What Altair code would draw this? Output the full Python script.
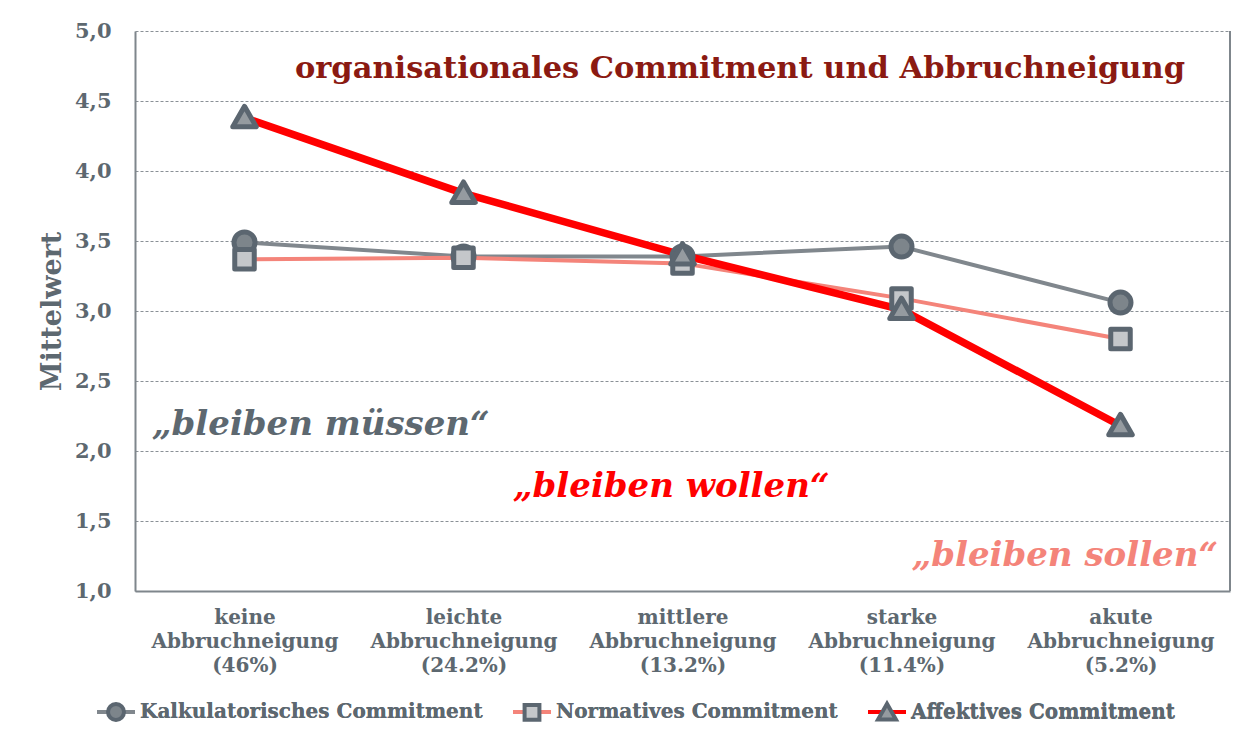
import altair as alt
import pandas as pd

# ---------------- data ----------------
categories = [
    "keine\nAbbruchneigung\n(46%)",
    "leichte\nAbbruchneigung\n(24.2%)",
    "mittlere\nAbbruchneigung\n(13.2%)",
    "starke\nAbbruchneigung\n(11.4%)",
    "akute\nAbbruchneigung\n(5.2%)",
]
series_names = ["Kalkulatorisches Commitment", "Normatives Commitment", "Affektives Commitment"]
kalkulatorisch = [3.49, 3.39, 3.39, 3.46, 3.06]
normativ = [3.37, 3.38, 3.34, 3.09, 2.80]
affektiv = [4.38, 3.84, 3.40, 3.01, 2.18]
y_ticks = [1.0, 1.5, 2.0, 2.5, 3.0, 3.5, 4.0, 4.5, 5.0]

chart_title = "organisationales Commitment und Abbruchneigung"
label_muessen = "„bleiben müssen“"
label_wollen = "„bleiben wollen“"
label_sollen = "„bleiben sollen“"

# ---------------- styles ----------------
FONT = "DejaVu Serif"
TXT = "#5d6870"
DARK = "#5b6670"
AXIS = "#7f868c"
GRID = "#8a9096"
line_colors = ["#80878d", "#f4847a", "#ff0000"]
marker_fills = ["#7d858b", "#c4c7ca", "#959ba0"]
# leading moveTo's give every legend symbol the same full-width bounds
EXT = "M-1,0M1,0"
marker_paths = [
    EXT + "M-0.42,0A0.42,0.42 0 1,0 0.42,0A0.42,0.42 0 1,0 -0.42,0Z",
    EXT + "M-0.39,-0.39H0.39V0.39H-0.39Z",
    EXT + "M0,-0.46L0.47,0.36H-0.47Z",
]
LINE_SYMBOL = "M-1,0H1"

W, H = 1095, 560

rows = []
for i, (name, vals) in enumerate(zip(series_names, [kalkulatorisch, normativ, affektiv])):
    for c, v in zip(categories, vals):
        rows.append({"Kategorie": c, "Reihe": name, "Wert": v, "Ordnung": i})
df = pd.DataFrame(rows)

x_enc = alt.X(
    "Kategorie:N",
    sort=categories,
    scale=alt.Scale(type="point", padding=0.5),
    axis=alt.Axis(
        title=None,
        labelExpr="split(datum.label, '\\n')",
        labelAngle=0,
        labelFont=FONT,
        labelFontWeight="bold",
        labelFontSize=20,
        labelColor=TXT,
        labelLineHeight=24,
        labelPadding=16,
        labelBaseline="top",
        labelLimit=400,
        ticks=False,
        domainColor=AXIS,
        domainWidth=2,
        grid=False,
    ),
)
y_enc = alt.Y(
    "Wert:Q",
    scale=alt.Scale(domain=[1, 5], nice=False, zero=False),
    axis=alt.Axis(
        values=y_ticks,
        labelExpr="replace(format(datum.value, '.1f'), '.', ',')",
        title="Mittelwert",
        titleFont=FONT,
        titleFontWeight="bold",
        titleFontSize=27,
        titleColor=TXT,
        titlePadding=8,
        labelFont=FONT,
        labelFontWeight="bold",
        labelFontSize=21,
        labelColor=TXT,
        labelPadding=24,
        ticks=False,
        grid=True,
        gridColor=GRID,
        gridDash=[3, 2],
        gridWidth=1,
        domainColor=AXIS,
        domainWidth=2,
    ),
)

legend_common = dict(
    orient="none",
    legendX=-40,
    legendY=660,
    direction="horizontal",
    columns=3,
    title=None,
    symbolSize=1444,
    symbolStrokeWidth=4,
    labelFont=FONT,
    labelFontSize=20,
    labelFontWeight="bold",
    labelColor=TXT,
    labelLimit=600,
    labelOffset=3,
    columnPadding=22,
    padding=0,
)

base = alt.Chart(df)

lines = base.mark_line(strokeJoin="round").encode(
    x=x_enc,
    y=y_enc,
    stroke=alt.Stroke(
        "Reihe:N",
        scale=alt.Scale(domain=series_names, range=line_colors),
        legend=alt.Legend(symbolType=LINE_SYMBOL, zindex=0, **legend_common),
    ),
    strokeWidth=alt.condition(
        alt.datum.Reihe == "Affektives Commitment", alt.value(7.5), alt.value(4)
    ),
)

order_sort = alt.EncodingSortField(field="Ordnung", op="min")
marker_legend = dict(zindex=1, **legend_common)
points = base.mark_point(
    filled=True, size=2500, stroke=DARK, strokeWidth=5, strokeJoin="round", opacity=1
).encode(
    x=x_enc,
    y=y_enc,
    shape=alt.Shape(
        "Reihe:N",
        sort=order_sort,
        scale=alt.Scale(range=marker_paths),
        legend=alt.Legend(**marker_legend),
    ),
    fill=alt.Fill(
        "Reihe:N",
        sort=order_sort,
        scale=alt.Scale(range=marker_fills),
        legend=alt.Legend(**marker_legend),
    ),
    stroke=alt.value(DARK),
    strokeWidth=alt.value(5),
)

dummy = pd.DataFrame({"d": [0]})

right_border = alt.Chart(dummy).mark_rule(color=AXIS, strokeWidth=2).encode(
    x=alt.value(W), y=alt.value(0), y2=alt.value(H)
)

title_txt = alt.Chart(dummy).mark_text(
    text=chart_title, font=FONT, fontSize=30.5, fontWeight="bold", color="#8b1a12",
    align="right", baseline="alphabetic",
).encode(x=alt.value(1050), y=alt.value(47))

t_muessen = alt.Chart(dummy).mark_text(
    text=label_muessen, font=FONT, fontSize=34, fontWeight="bold", fontStyle="italic",
    color=TXT, align="left", baseline="alphabetic",
).encode(x=alt.value(17), y=alt.value(404))

t_wollen = alt.Chart(dummy).mark_text(
    text=label_wollen, font=FONT, fontSize=34, fontWeight="bold", fontStyle="italic",
    color="#ff0000", align="left", baseline="alphabetic",
).encode(x=alt.value(378), y=alt.value(466))

t_sollen = alt.Chart(dummy).mark_text(
    text=label_sollen, font=FONT, fontSize=34, fontWeight="bold", fontStyle="italic",
    color="#f4847a", align="right", baseline="alphabetic",
).encode(x=alt.value(1083), y=alt.value(535))

chart = (
    alt.layer(lines, points, right_border, title_txt, t_muessen, t_wollen, t_sollen)
    .properties(
        width=W,
        height=H,
        autosize=alt.AutoSizeParams(type="none"),
        padding={"left": 127, "top": 23, "right": 7, "bottom": 139},
        background="white",
    )
    .configure_view(strokeWidth=0)
)

chart.save("out.html", embed_options={"renderer": "svg", "actions": False})
